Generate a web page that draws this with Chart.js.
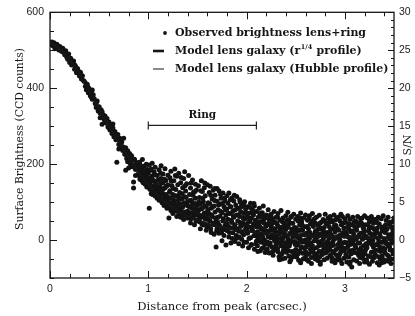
<!DOCTYPE html>
<html><head><meta charset="utf-8">
<script src="https://cdn.jsdelivr.net/npm/chart.js@4/dist/chart.umd.min.js"></script>
<style>html,body{margin:0;padding:0;background:#fff}canvas{display:block}</style>
</head><body><canvas id="c" width="415" height="316"></canvas>
<script>
// ---- tick labels ----
const xTickValues = [0, 1, 2, 3];
const yTickValues = [0, 200, 400, 600];
const snTickValues = [-5, 0, 5, 10, 15, 20, 25, 30];

// ---- model curves (surface brightness, CCD counts) ----
const modelX = [0,0.1,0.2,0.3,0.4,0.5,0.6,0.7,0.8,0.9,1.0,1.1,1.2,1.3,1.4,1.5,1.6,1.7,1.8,1.9,2.0,2.2,2.4,2.6,2.8,3.0,3.2,3.5];
const modelR14 = [520,503,474,437,393,346,300,258,218,180,147,118,95,77,63,52,43,36,31,27,23,18,14,11,9,8,6,5];
const modelHubble = [520,498,468,432,392,350,308,268,230,196,166,140,118,100,85,73,62,54,47,41,36,28,22,18,15,12,10,8];

// ---- ring marker ----
const ringSpan = [1.0, 2.10];
const ringLevel = 302;

// ---- observed brightness, lens + ring: [distance, counts] ----
const obsCore = [[0.01,515],[0.03,512],[0.04,520],[0.06,508],[0.07,516],[0.09,501],[0.10,510],[0.12,497],[0.13,505],[0.15,488],[0.16,499],[0.17,482],[0.19,490],[0.20,468],[0.21,479],[0.22,461],[0.24,472],[0.25,450],[0.26,458],[0.27,441],[0.28,452],[0.30,432],[0.31,442],[0.32,424],[0.33,433],[0.35,418],[0.36,405],[0.37,396],[0.38,410],[0.39,388],[0.40,398],[0.41,380],[0.42,391],[0.43,371],[0.44,383],[0.46,360],[0.47,349],[0.48,366],[0.49,340],[0.50,351],[0.51,334],[0.52,343],[0.53,305],[0.54,330],[0.55,318],[0.56,327],[0.57,309],[0.58,320],[0.59,298],[0.60,311],[0.61,290],[0.62,304],[0.63,281],[0.64,295],[0.65,272],[0.66,286],[0.67,264],[0.68,205],[0.69,278],[0.70,252],[0.71,268],[0.72,245],[0.73,258],[0.74,236],[0.75,268],[0.76,226],[0.77,243],[0.77,184],[0.78,215],[0.79,235],[0.80,209],[0.80,190],[0.81,228],[0.82,200],[0.83,222],[0.84,193],[0.85,137],[0.85,153],[0.86,213],[0.87,186],[0.88,204],[0.89,172],
[0.02,522],[0.05,504],[0.08,512],[0.11,500],[0.14,494],[0.18,476],[0.23,466],[0.29,445],[0.34,420],[0.37,412],[0.45,372],[0.53,338],[0.56,312],[0.62,292],[0.64,306],[0.66,276],[0.68,266],[0.70,240],[0.72,258],[0.74,246],[0.76,240],[0.78,224],[0.79,206],[0.81,214],[0.83,196],[0.84,210],[0.86,196],[0.87,170],[0.88,188],[0.89,198],[0.43,395],[0.47,360],[0.51,322],[0.58,308],[0.60,296],[0.25,462],[0.39,402],[0.42,377]];

const obsRing = [[0.90,192],[0.90,171],[0.91,205],[0.91,183],[0.92,165],[0.92,197],[0.93,176],[0.93,158],[0.94,212],[0.94,188],[0.95,170],[0.95,151],[0.96,195],[0.96,162],[0.97,181],[0.97,147],[0.98,200],[0.98,168],[0.99,155],[0.99,186],
[1.00,142],[1.00,176],[1.01,160],[1.01,198],[1.01,84],[1.02,133],[1.02,151],[1.03,187],[1.03,122],[1.04,169],[1.04,202],[1.05,140],[1.05,128],[1.06,179],[1.06,155],[1.07,116],[1.07,192],[1.08,146],[1.08,131],[1.09,170],[1.09,110],[1.10,158],[1.10,124],
[1.11,185],[1.11,105],[1.12,140],[1.12,117],[1.13,196],[1.13,162],[1.14,98],[1.14,128],[1.15,150],[1.15,174],[1.16,110],[1.16,91],[1.17,138],[1.17,188],[1.18,120],[1.18,157],[1.19,84],[1.19,102],[1.20,145],[1.20,171],
[1.21,112],[1.21,89],[1.21,58],[1.22,164],[1.22,130],[1.23,78],[1.23,181],[1.24,98],[1.24,143],[1.25,120],[1.25,70],[1.26,156],[1.26,105],[1.27,187],[1.27,84],[1.28,133],[1.28,92],[1.29,168],[1.29,62],[1.30,117],[1.30,146],
[1.31,80],[1.31,176],[1.32,125],[1.32,96],[1.33,60],[1.33,151],[1.34,108],[1.34,72],[1.35,138],[1.35,87],[1.36,162],[1.36,54],[1.37,114],[1.37,180],[1.38,93],[1.38,129],[1.39,68],[1.39,148],[1.40,101],[1.40,76],
[1.41,170],[1.41,58],[1.42,120],[1.42,88],[1.43,137],[1.43,45],[1.44,104],[1.44,72],[1.45,158],[1.45,95],[1.46,62],[1.46,126],[1.47,83],[1.47,40],[1.48,147],[1.48,110],[1.49,66],[1.49,132],[1.50,91],[1.50,53],
[1.51,143],[1.51,77],[1.52,48],[1.52,112],[1.53,95],[1.53,30],[1.54,156],[1.54,64],[1.55,128],[1.55,84],[1.56,40],[1.56,101],[1.57,71],[1.57,138],[1.58,55],[1.58,117],[1.59,26],[1.59,89],[1.60,146],[1.60,60],
[1.61,98],[1.61,35],[1.62,125],[1.62,70],[1.63,50],[1.63,142],[1.64,84],[1.64,20],[1.65,108],[1.65,62],[1.66,131],[1.66,41],[1.67,90],[1.67,15],[1.68,118],[1.68,74],[1.69,-18],[1.69,53],[1.70,102],[1.70,136],[1.70,30],
[1.71,80],[1.71,45],[1.72,129],[1.72,18],[1.73,95],[1.73,63],[1.74,110],[1.74,30],[1.75,-2],[1.75,72],[1.76,124],[1.76,50],[1.77,88],[1.77,12],[1.78,104],[1.78,38],[1.79,-13],[1.79,66],[1.80,117],[1.80,25],[1.80,82],
[1.81,55],[1.81,97],[1.82,8],[1.82,124],[1.83,70],[1.83,33],[1.84,-8],[1.84,88],[1.85,111],[1.85,46],[1.86,19],[1.86,76],[1.87,60],[1.87,103],[1.88,-4],[1.88,40],[1.89,92],[1.89,28],[1.90,66],[1.90,115],[1.90,5],
[1.91,50],[1.91,84],[1.92,-10],[1.92,23],[1.93,106],[1.93,62],[1.94,36],[1.94,75],[1.95,2],[1.95,95],[1.96,45],[1.96,-16],[1.97,70],[1.97,14],[1.98,101],[1.98,55],[1.99,30],[1.99,82],[2.00,-6],[2.00,60],[2.00,40],
[2.01,88],[2.01,18],[2.02,47],[2.02,-20],[2.03,71],[2.03,34],[2.04,97],[2.04,6],[2.05,58],[2.05,-12],[2.06,80],[2.06,26],[2.07,42],[2.07,66],[2.08,-24],[2.08,90],[2.09,12],[2.09,52],[2.10,75],[2.10,-3],[2.10,35]];

const obsRingDense = [[0.905,178],[0.915,160],[0.925,187],[0.935,166],[0.945,152],[0.955,182],[0.965,148],[0.975,172],[0.985,140],[0.995,163],
[1.005,150],[1.015,135],[1.025,165],[1.035,142],[1.045,120],[1.055,157],[1.065,130],[1.075,148],[1.085,118],[1.095,139],[1.025,184],[1.065,172],
[1.105,132],[1.115,112],[1.125,150],[1.135,104],[1.145,121],[1.155,135],[1.165,97],[1.175,114],[1.185,142],[1.195,93],[1.125,176],[1.165,160],
[1.205,100],[1.215,126],[1.225,88],[1.235,110],[1.245,80],[1.255,136],[1.265,94],[1.275,117],[1.285,76],[1.295,104],[1.235,155],[1.275,170],
[1.305,88],[1.315,70],[1.325,110],[1.335,82],[1.345,122],[1.355,66],[1.365,98],[1.375,74],[1.385,112],[1.395,58],[1.335,165],[1.375,143],
[1.405,90],[1.415,66],[1.425,104],[1.435,56],[1.445,84],[1.455,118],[1.465,70],[1.475,96],[1.485,50],[1.495,79],[1.435,150],[1.475,128],
[1.505,66],[1.515,100],[1.525,58],[1.535,82],[1.545,42],[1.555,110],[1.565,60],[1.575,90],[1.585,38],[1.595,72],[1.535,130],[1.575,150],
[1.605,80],[1.615,52],[1.625,96],[1.635,30],[1.645,66],[1.655,88],[1.665,44],[1.675,104],[1.685,58],[1.695,24],[1.635,118],[1.675,136],
[1.705,60],[1.715,92],[1.725,38],[1.735,76],[1.745,20],[1.755,96],[1.765,56],[1.775,28],[1.785,80],[1.795,44],[1.735,120],[1.775,110],
[1.805,40],[1.815,70],[1.825,20],[1.835,88],[1.845,52],[1.855,4],[1.865,64],[1.875,34],[1.885,80],[1.895,12],[1.835,106],[1.875,118],
[1.905,30],[1.915,66],[1.925,8],[1.935,46],[1.945,88],[1.955,20],[1.965,58],[1.975,-6],[1.985,40],[1.995,72],[1.935,100],[1.975,90],
[2.005,24],[2.015,60],[2.025,4],[2.035,50],[2.045,-14],[2.055,34],[2.065,70],[2.075,12],[2.085,44],[2.095,-10],[2.035,86],[2.075,96]];

const obsTail = [[2.11,22],[2.11,-15],[2.12,61],[2.12,5],[2.13,84],[2.13,38],[2.14,-28],[2.14,14],[2.15,49],[2.15,-6],[2.16,72],[2.16,28],[2.17,-20],[2.17,90],[2.18,44],[2.18,0],[2.19,58],[2.19,-33],[2.20,18],[2.20,66],[2.20,-10],[2.15,31],
[2.21,40],[2.21,-24],[2.22,80],[2.22,9],[2.23,-34],[2.23,55],[2.24,26],[2.24,-8],[2.25,68],[2.25,36],[2.26,-18],[2.26,12],[2.27,50],[2.27,-40],[2.28,75],[2.28,3],[2.29,30],[2.29,-26],[2.30,60],[2.30,-12],[2.30,20],[2.26,44],
[2.31,-3],[2.31,42],[2.32,-31],[2.32,70],[2.33,16],[2.33,-44],[2.34,52],[2.34,25],[2.35,-15],[2.35,78],[2.36,34],[2.36,-36],[2.37,6],[2.37,58],[2.38,-22],[2.38,45],[2.39,-48],[2.39,12],[2.40,64],[2.40,-7],[2.40,29],[2.36,-50],
[2.41,38],[2.41,-20],[2.42,73],[2.42,2],[2.43,-42],[2.43,50],[2.44,17],[2.44,-10],[2.45,60],[2.45,-52],[2.46,27],[2.46,-30],[2.47,44],[2.47,8],[2.48,-38],[2.48,68],[2.49,-4],[2.49,33],[2.50,-25],[2.50,55],[2.50,14],[2.44,-57],
[2.51,-45],[2.51,22],[2.52,62],[2.52,-14],[2.53,5],[2.53,-53],[2.54,40],[2.54,-28],[2.55,71],[2.55,12],[2.56,-6],[2.56,48],[2.57,-35],[2.57,26],[2.58,58],[2.58,-20],[2.59,-48],[2.59,35],[2.60,0],[2.60,66],[2.60,-30],[2.55,-60],
[2.61,18],[2.61,-40],[2.62,52],[2.62,-9],[2.63,30],[2.63,-56],[2.64,64],[2.64,4],[2.65,-24],[2.65,42],[2.66,-46],[2.66,11],[2.67,70],[2.67,-15],[2.68,36],[2.68,-33],[2.69,56],[2.69,-2],[2.70,-50],[2.70,24],[2.70,45],[2.66,-62],
[2.71,-20],[2.71,60],[2.72,8],[2.72,-44],[2.73,38],[2.73,-5],[2.74,65],[2.74,-30],[2.75,16],[2.75,-58],[2.76,47],[2.76,-12],[2.77,28],[2.77,-38],[2.78,54],[2.78,2],[2.79,-52],[2.79,33],[2.80,-22],[2.80,68],[2.80,10],[2.75,-64],
[2.81,42],[2.81,-8],[2.82,-48],[2.82,20],[2.83,58],[2.83,-27],[2.84,5],[2.84,36],[2.85,-40],[2.85,62],[2.86,-16],[2.86,14],[2.87,48],[2.87,-56],[2.88,-3],[2.88,30],[2.89,66],[2.89,-34],[2.90,22],[2.90,-60],[2.90,52],[2.85,-10],
[2.91,-25],[2.91,38],[2.92,8],[2.92,-52],[2.93,60],[2.93,-12],[2.94,26],[2.94,-42],[2.95,50],[2.95,0],[2.96,-30],[2.96,68],[2.97,15],[2.97,-62],[2.98,44],[2.98,-20],[2.99,32],[2.99,-48],[3.00,56],[3.00,-6],[3.00,20],[2.95,-36],
[3.01,-38],[3.01,46],[3.02,12],[3.02,-58],[3.03,-18],[3.03,64],[3.04,30],[3.04,-45],[3.05,-2],[3.05,54],[3.06,22],[3.06,-28],[3.07,-71],[3.07,40],[3.08,-10],[3.08,60],[3.09,-52],[3.09,16],[3.10,-33],[3.10,36],[3.10,4],[3.05,-64],
[3.11,50],[3.11,-20],[3.12,-55],[3.12,26],[3.13,8],[3.13,62],[3.14,-40],[3.14,38],[3.15,-8],[3.15,-62],[3.16,18],[3.16,56],[3.17,-30],[3.17,44],[3.18,-48],[3.18,2],[3.19,30],[3.19,-15],[3.20,64],[3.20,-58],[3.20,12],[3.15,-36],
[3.21,-26],[3.21,40],[3.22,6],[3.22,-52],[3.23,58],[3.23,-10],[3.24,24],[3.24,-42],[3.25,48],[3.25,-64],[3.26,-4],[3.26,34],[3.27,-32],[3.27,62],[3.28,14],[3.28,-56],[3.29,-18],[3.29,44],[3.30,-46],[3.30,28],[3.30,54],[3.25,0],
[3.31,-38],[3.31,18],[3.32,50],[3.32,-12],[3.33,-60],[3.33,32],[3.34,4],[3.34,60],[3.35,-28],[3.35,42],[3.36,-50],[3.36,10],[3.37,-6],[3.37,56],[3.38,-42],[3.38,24],[3.39,-20],[3.39,64],[3.40,-58],[3.40,36],[3.40,-2],[3.35,-66],
[3.41,20],[3.41,-34],[3.42,52],[3.42,-8],[3.43,-54],[3.43,30],[3.44,-16],[3.44,60],[3.45,6],[3.45,-44],[3.46,40],[3.46,-26],[3.47,-62],[3.47,14],[3.48,48],[3.48,-4],[3.49,-36],[3.49,26],[3.50,58],[3.50,-50],[3.50,10],[3.45,-12]];

const obsTailDense = [[2.105,10],[2.115,-30],[2.125,48],[2.135,-2],[2.145,30],[2.155,-22],[2.165,8],[2.175,55],[2.185,-12],[2.195,36],[2.135,70],[2.175,20],[2.115,42],[2.155,62],[2.195,-4],[2.185,24],
[2.205,-28],[2.215,22],[2.225,44],[2.235,-14],[2.245,6],[2.255,58],[2.265,-30],[2.275,30],[2.285,-2],[2.295,46],[2.215,-6],[2.245,38],[2.275,14],[2.295,-20],[2.235,64],[2.265,26],
[2.305,8],[2.315,-22],[2.325,36],[2.335,-8],[2.345,-40],[2.355,22],[2.365,48],[2.375,-28],[2.385,18],[2.395,-14],[2.315,60],[2.345,4],[2.375,32],[2.395,40],[2.335,-52],[2.365,-4],
[2.405,-32],[2.415,10],[2.425,34],[2.435,-16],[2.445,44],[2.455,-4],[2.465,18],[2.475,-44],[2.485,24],[2.495,-12],[2.425,-28],[2.455,62],[2.485,-30],[2.415,52],[2.445,-2],[2.475,30],
[2.505,32],[2.515,-8],[2.525,-36],[2.535,26],[2.545,2],[2.555,-18],[2.565,40],[2.575,-50],[2.585,14],[2.595,-6],[2.525,50],[2.555,28],[2.585,-34],[2.515,8],[2.545,58],[2.575,-2],
[2.605,-18],[2.615,36],[2.625,2],[2.635,-36],[2.645,20],[2.655,-8],[2.665,50],[2.675,-26],[2.685,10],[2.695,-40],[2.615,-52],[2.645,-14],[2.675,40],[2.695,18],[2.635,58],[2.665,-30],
[2.705,4],[2.715,-36],[2.725,28],[2.735,-16],[2.745,44],[2.755,-4],[2.765,-30],[2.775,12],[2.785,-20],[2.795,50],[2.725,-54],[2.755,32],[2.785,22],[2.715,18],[2.745,-44],[2.775,-10],
[2.805,-34],[2.815,14],[2.825,-4],[2.835,46],[2.845,-22],[2.855,28],[2.865,-46],[2.875,8],[2.885,-14],[2.895,38],[2.825,-28],[2.855,54],[2.885,-52],[2.815,-18],[2.845,20],[2.875,-30],
[2.905,4],[2.915,-40],[2.925,30],[2.935,-20],[2.945,12],[2.955,-54],[2.965,40],[2.975,-8],[2.985,20],[2.995,-28],[2.915,56],[2.945,-6],[2.975,62],[2.995,10],[2.935,-48],[2.965,-18],
[3.005,-22],[3.015,20],[3.025,-44],[3.035,8],[3.045,42],[3.055,-12],[3.065,-36],[3.075,24],[3.085,-2],[3.095,48],[3.025,34],[3.055,-58],[3.085,-26],[3.015,-8],[3.045,-30],[3.075,6],
[3.105,-14],[3.115,30],[3.125,-34],[3.135,-8],[3.145,14],[3.155,44],[3.165,-20],[3.175,4],[3.185,-40],[3.195,22],[3.125,46],[3.155,-46],[3.185,34],[3.115,2],[3.145,-26],[3.175,58],
[3.205,-36],[3.215,10],[3.225,-20],[3.235,40],[3.245,-4],[3.255,18],[3.265,-44],[3.275,-12],[3.285,32],[3.295,-30],[3.225,-58],[3.255,52],[3.285,-2],[3.215,-10],[3.245,30],[3.275,14],
[3.305,8],[3.315,-26],[3.325,22],[3.335,-12],[3.345,-44],[3.355,16],[3.365,-30],[3.375,34],[3.385,-6],[3.395,-52],[3.325,46],[3.355,-18],[3.385,28],[3.315,54],[3.345,-4],[3.375,-60],
[3.405,-24],[3.415,-4],[3.425,28],[3.435,-40],[3.445,14],[3.455,-18],[3.465,-50],[3.475,34],[3.485,-28],[3.495,2],[3.425,-10],[3.455,46],[3.485,18],[3.415,40],[3.445,-56],[3.475,-8]];

// ---- texts ----
const legendTexts = ['Observed brightness lens+ring', 'Model lens galaxy (r', '1/4', ' profile)', 'Model lens galaxy (Hubble profile)'];
const xTitle = 'Distance from peak (arcsec.)';
const yTitle = 'Surface Brightness (CCD counts)';
const y2Title = 'S/N';
const ringLabel = 'Ring';

const INK = '#161616';
const serif = '"DejaVu Serif", "Liberation Serif", serif';
const sans = '"Liberation Sans", Arial, sans-serif';

const decorPlugin = {
  id: 'decor',
  afterDraw(chart) {
    const { ctx, chartArea: a, scales } = chart;
    const x = scales.x, y = scales.y, y2 = scales.y2;
    ctx.save();
    ctx.strokeStyle = INK;
    ctx.fillStyle = INK;
    const seg = (x1, y1, x2, y2_) => { ctx.beginPath(); ctx.moveTo(x1, y1); ctx.lineTo(x2, y2_); ctx.stroke(); };
    ctx.lineWidth = 1.3;
    ctx.strokeRect(a.left, a.top, a.right - a.left, a.bottom - a.top);
    ctx.lineWidth = 1;
    for (let i = 0; i <= 17; i++) {
      const v = i * 0.2;
      const px = Math.round(x.getPixelForValue(v)) + 0.5;
      const major = Math.abs(v - Math.round(v)) < 1e-6;
      const L = major ? 7 : 4;
      seg(px, a.bottom, px, a.bottom - L);
      seg(px, a.top, px, a.top + L);
    }
    for (let v = -100; v <= 600; v += 50) {
      const py = Math.round(y.getPixelForValue(v)) + 0.5;
      const L = (v % 200 === 0) ? 7 : 4;
      seg(a.left, py, a.left + L, py);
    }
    for (let v = -5; v <= 30; v += 1) {
      const py = Math.round(y2.getPixelForValue(v)) + 0.5;
      const L = (v % 5 === 0) ? 6 : 3;
      seg(a.right, py, a.right - L, py);
    }
    ctx.textAlign = 'center';
    ctx.textBaseline = 'middle';
    ctx.font = '11.6px ' + serif;
    ctx.fillText(xTitle, 222, 307);
    ctx.font = '10.8px ' + serif;
    ctx.save();
    ctx.translate(20, 139);
    ctx.rotate(-Math.PI / 2);
    ctx.fillText(yTitle, 0, 0);
    ctx.restore();
    ctx.font = '11px ' + serif;
    ctx.save();
    ctx.translate(408, y2.getPixelForValue(12.5));
    ctx.rotate(-Math.PI / 2);
    ctx.fillText(y2Title, 0, 0);
    ctx.restore();
    ctx.font = 'bold 10.5px ' + serif;
    ctx.fillText(ringLabel, x.getPixelForValue((ringSpan[0] + ringSpan[1]) / 2), y.getPixelForValue(ringLevel) - 10);
    ctx.textAlign = 'left';
    const tx = 175, rows = [33, 51, 69];
    ctx.beginPath(); ctx.arc(165, rows[0], 1.9, 0, Math.PI * 2); ctx.fill();
    ctx.lineWidth = 2.6; seg(153, rows[1], 164, rows[1]);
    ctx.lineWidth = 1; seg(153, rows[2], 164, rows[2]);
    const lf = 'bold 11px ' + serif;
    ctx.font = lf;
    ctx.fillText(legendTexts[0], tx, rows[0]);
    ctx.fillText(legendTexts[1], tx, rows[1]);
    const w = ctx.measureText(legendTexts[1]).width;
    ctx.font = 'bold 6.5px ' + serif;
    ctx.fillText(legendTexts[2], tx + w + 0.5, rows[1] - 4);
    const w2 = ctx.measureText(legendTexts[2]).width;
    ctx.font = lf;
    ctx.fillText(legendTexts[3], tx + w + w2 + 1, rows[1]);
    ctx.fillText(legendTexts[4], tx, rows[2]);
    ctx.restore();
  }
};

const toPts = arr => arr.map(p => ({ x: p[0], y: p[1] }));
const labelFont = { family: sans, size: 10.5 };

new Chart(document.getElementById('c'), {
  type: 'scatter',
  data: {
    datasets: [
      { type: 'line', label: 'Model lens galaxy (r^1/4 profile)', data: modelX.map((v, i) => ({ x: v, y: modelR14[i] })),
        borderColor: INK, borderWidth: 2.6, pointRadius: 0, cubicInterpolationMode: 'monotone', fill: false },
      { type: 'line', label: 'Model lens galaxy (Hubble profile)', data: modelX.map((v, i) => ({ x: v, y: modelHubble[i] })),
        borderColor: INK, borderWidth: 1, pointRadius: 0, cubicInterpolationMode: 'monotone', fill: false },
      { type: 'line', label: 'Ring', data: [{ x: ringSpan[0], y: ringLevel }, { x: ringSpan[1], y: ringLevel }],
        borderColor: '#222', borderWidth: 1.2, pointStyle: 'line', rotation: 90, pointRadius: 4,
        pointBorderColor: '#222', pointBorderWidth: 1.2, fill: false },
      { label: 'Observed brightness lens+ring',
        data: toPts([...obsCore, ...obsRing, ...obsRingDense, ...obsTail, ...obsTailDense]),
        pointRadius: 2.5, backgroundColor: '#121212', borderWidth: 0, pointBorderWidth: 0 }
    ]
  },
  options: {
    responsive: false, animation: false, devicePixelRatio: 1,
    layout: { padding: { top: 12, left: 0, right: 0, bottom: 0 } },
    plugins: { legend: { display: false }, tooltip: { enabled: false } },
    scales: {
      x: { type: 'linear', min: 0, max: 3.5,
        afterFit(s) { s.height = 38; },
        afterBuildTicks(s) { s.ticks = xTickValues.map(v => ({ value: v })); },
        grid: { display: false, drawTicks: false }, border: { display: false },
        ticks: { padding: 5, font: labelFont, color: '#222', maxRotation: 0 } },
      y: { type: 'linear', position: 'left', min: -100, max: 600,
        afterFit(s) { s.width = 50; },
        afterBuildTicks(s) { s.ticks = yTickValues.map(v => ({ value: v })); },
        grid: { display: false, drawTicks: false }, border: { display: false },
        ticks: { padding: 6, font: labelFont, color: '#222' } },
      y2: { type: 'linear', position: 'right', min: -5, max: 30,
        afterFit(s) { s.width = 21; },
        afterBuildTicks(s) { s.ticks = snTickValues.map(v => ({ value: v })); },
        grid: { display: false, drawTicks: false }, border: { display: false },
        ticks: { padding: 5, font: labelFont, color: '#222',
          callback: v => (v < 0 ? '\u2212' + Math.abs(v) : String(v)) } }
    }
  },
  plugins: [decorPlugin]
});
</script>
</body></html>
